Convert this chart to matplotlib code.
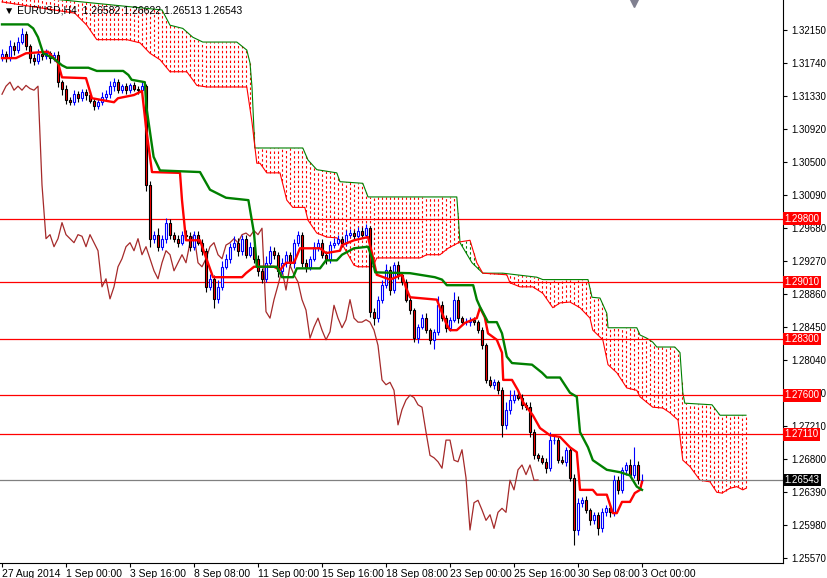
import numpy as np
import matplotlib
matplotlib.use('Agg')
from matplotlib import pyplot as plt

plt.rcParams['font.family'] = ['Liberation Sans', 'DejaVu Sans']

# EURUSD H4 closes, bar 0 .. 160
closes = [1.3185, 1.3180, 1.3195, 1.3190, 1.3200, 1.3210, 1.3195, 1.3180, 1.3176, 1.3185,
          1.3183, 1.3186, 1.3180, 1.3184, 1.3150, 1.3142, 1.3128, 1.3125, 1.3135, 1.3130,
          1.3138, 1.3134, 1.3127, 1.3120, 1.3125, 1.3132, 1.3135, 1.3145, 1.3150, 1.3140,
          1.3145, 1.3140, 1.3146, 1.3142, 1.3140, 1.3145, 1.3022, 1.2955, 1.2960, 1.2945,
          1.2955, 1.2975, 1.2960, 1.2955, 1.2950, 1.2960, 1.2958, 1.2945, 1.2960, 1.2950,
          1.2940, 1.2895, 1.2905, 1.2880, 1.2895, 1.2920, 1.2930, 1.2945, 1.2950, 1.2940,
          1.2955, 1.2935, 1.2945, 1.2930, 1.2915, 1.2905, 1.2925, 1.2940, 1.2935, 1.2915,
          1.2925, 1.2935, 1.2925, 1.2950, 1.2960, 1.2925, 1.2920, 1.2930, 1.2945, 1.2950,
          1.2935, 1.2930, 1.2947, 1.2950, 1.2955, 1.2950, 1.2960, 1.2962, 1.2958, 1.2965,
          1.2960, 1.2968, 1.2864, 1.2856, 1.2879, 1.2897, 1.2916, 1.2891, 1.2922, 1.2910,
          1.2901, 1.2879, 1.2866, 1.2831, 1.2845, 1.2856, 1.2841, 1.2829, 1.2839, 1.2872,
          1.2856, 1.2844, 1.2854, 1.2879, 1.2856, 1.2851, 1.2851, 1.2854, 1.2851, 1.2841,
          1.2822, 1.2779, 1.2773, 1.2776, 1.2766, 1.2723, 1.2742, 1.2754, 1.2760, 1.2757,
          1.2748, 1.2745, 1.2714, 1.2685, 1.2682, 1.2677, 1.2669, 1.2704, 1.2704, 1.2679,
          1.2677, 1.2692, 1.2657, 1.2592, 1.2626, 1.2629, 1.2617, 1.2604, 1.2611, 1.2594,
          1.2614, 1.2619, 1.2614, 1.2654, 1.2642, 1.2667, 1.2673, 1.2661, 1.2673, 1.2654,
          1.26543]
first_open = 1.3180
# wick sizes in pips above / below the body
wick_up = [6, 4, 8, 5, 6, 8, 4, 3, 5, 6, 4, 5, 3, 4, 5, 3, 4, 3, 5, 4,
           3, 4, 5, 3, 4, 6, 5, 6, 5, 4, 3, 4, 3, 4, 3, 5, 3, 5, 4, 8,
           5, 6, 4, 3, 5, 4, 6, 5, 4, 5, 4, 3, 6, 5, 8, 7, 6, 5, 8, 6,
           5, 4, 6, 3, 5, 4, 9, 6, 5, 4, 6, 5, 4, 5, 4, 3, 5, 4, 6, 5,
           4, 5, 5, 6, 4, 3, 6, 5, 4, 5, 4, 5, 3, 4, 5, 6, 8, 5, 4, 5,
           3, 4, 5, 3, 4, 5, 6, 3, 4, 12, 5, 4, 3, 9, 4, 3, 5, 4, 4, 3,
           4, 3, 5, 4, 3, 4, 10, 12, 6, 5, 4, 3, 6, 4, 3, 4, 5, 10, 6, 4,
           5, 3, 4, 5, 6, 4, 5, 3, 4, 3, 5, 4, 3, 6, 5, 4, 4, 8, 22, 5,
           8]
wick_dn = [4, 5, 3, 6, 4, 3, 5, 6, 4, 3, 5, 4, 6, 3, 6, 8, 5, 4, 3, 5,
           4, 6, 3, 5, 4, 3, 4, 5, 6, 4, 3, 5, 4, 3, 5, 4, 8, 10, 6, 5,
           4, 5, 6, 4, 5, 3, 4, 5, 4, 3, 5, 6, 4, 12, 5, 4, 3, 5, 4, 6,
           5, 4, 3, 5, 6, 5, 4, 3, 5, 8, 4, 5, 3, 6, 4, 5, 6, 4, 3, 5,
           4, 6, 5, 4, 3, 5, 4, 3, 5, 4, 3, 4, 6, 8, 5, 4, 3, 6, 4, 5,
           4, 3, 5, 5, 6, 3, 4, 5, 12, 4, 3, 5, 4, 3, 6, 4, 3, 5, 4, 3,
           5, 4, 3, 5, 4, 15, 5, 6, 4, 3, 5, 4, 6, 5, 4, 3, 6, 4, 5, 4,
           3, 5, 4, 19, 6, 5, 4, 6, 5, 8, 4, 5, 6, 4, 5, 4, 6, 3, 4, 5,
           3]

# Tenkan-sen (red)
tenkan_bar = [0, 3.5, 6, 11.5, 14, 15, 21, 22.5, 28, 29, 31, 33, 35, 36, 37.5, 44.5, 45, 46,
              49.5, 50.75, 52.75, 60, 61, 63, 68, 69.5, 71, 73, 74.5, 79.5, 81, 84.5, 85, 88,
              91.5, 92.5, 93.7, 97, 100, 101, 102, 108.7, 111, 112, 113.7, 115.7, 118.7,
              119.5, 120.7, 121.5, 123.7, 125, 125.3, 127.5, 129, 130.3, 132.7, 134.5, 137,
              139.5, 142, 143.7, 144.5, 147.7, 148.7, 151.2, 152.7, 153.7, 155, 157, 158.2,
              159.5, 160]
tenkan_val = [1.3180, 1.3180, 1.3186, 1.3188, 1.3174, 1.3156, 1.3155, 1.3130, 1.3125, 1.3130,
              1.3132, 1.3134, 1.3139, 1.3094, 1.3038, 1.3037, 1.3003, 1.2953, 1.2953, 1.2935,
              1.2907, 1.2907, 1.2912, 1.2920, 1.2920, 1.2916, 1.2925, 1.2925, 1.2943, 1.2943,
              1.2937, 1.2940, 1.2947, 1.2953, 1.2957, 1.2937, 1.2910, 1.2904, 1.2910, 1.2894,
              1.2882, 1.2879, 1.2850, 1.2841, 1.2841, 1.2850, 1.2856, 1.2869, 1.2857, 1.2837,
              1.2829, 1.2813, 1.2779, 1.2779, 1.2766, 1.2751, 1.2735, 1.2719, 1.2710, 1.2708,
              1.2695, 1.2689, 1.2642, 1.2642, 1.2636, 1.2636, 1.2613, 1.2613, 1.2627, 1.2627,
              1.2638, 1.2642, 1.2652]

# Kijun-sen (green)
kijun_bar = [0, 6.5, 7.8, 9, 10.3, 12.8, 15, 16.2, 21.6, 23.7, 30.3, 31.6, 32.4, 35.7, 36.1,
             37.4, 37.9, 39.5, 49.5, 52, 56, 61.6, 63, 63.7, 68.7, 70, 72.8, 73.7, 79.5, 81,
             83.7, 85, 88, 91.5, 92.5, 93.3, 102, 108.2, 110, 111.2, 117.8, 118.7, 119.5,
             121.5, 123.7, 125, 126.2, 127.5, 132.5, 135, 136.2, 139.5, 142, 143.7, 144.5,
             146.5, 147.7, 151.2, 154.5, 157, 158.7, 160]
kijun_val = [1.3222, 1.3222, 1.3217, 1.3206, 1.3186, 1.3180, 1.3171, 1.3168, 1.3168, 1.3164,
             1.3164, 1.3159, 1.3153, 1.3150, 1.3119, 1.3074, 1.3057, 1.3040, 1.3038, 1.3016,
             1.3006, 1.3003, 1.2962, 1.2920, 1.2920, 1.2907, 1.2907, 1.2918, 1.2918, 1.2928,
             1.2928, 1.2935, 1.2943, 1.2945, 1.2931, 1.2913, 1.2912, 1.2907, 1.2904, 1.2897,
             1.2897, 1.2879, 1.2870, 1.2851, 1.2851, 1.2837, 1.2808, 1.2800, 1.2798, 1.2788,
             1.2782, 1.2782, 1.2763, 1.2758, 1.2714, 1.2695, 1.2679, 1.2667, 1.2664, 1.2660,
             1.2646, 1.2642]

# Senkou span B (upper cloud edge, green)
spanb_bar = [0, 40, 42, 45.2, 47.7, 50.2, 58.7, 61.2, 62, 62.5, 63.2, 75.2, 76.5, 78.7, 83.7,
             84.5, 90.2, 91.5, 113.7, 114, 114.5, 117.5, 120.2, 125.2, 133.7, 135.2, 146.5,
             147.5, 149.5, 151.2, 151.5, 158.7, 159.5, 161.2, 162.7, 163.7, 168.2, 169.5,
             170.2, 170.7, 177.5, 179.5, 186]
spanb_val = [1.3260, 1.3240, 1.3221, 1.3217, 1.3206, 1.3200, 1.3200, 1.3190, 1.3174, 1.3144,
             1.3068, 1.3068, 1.3053, 1.3041, 1.3037, 1.3026, 1.3024, 1.3007, 1.3007, 1.2987,
             1.2950, 1.2925, 1.2912, 1.2912, 1.2907, 1.2904, 1.2904, 1.2882, 1.2881, 1.2862,
             1.2844, 1.2844, 1.2835, 1.2831, 1.2826, 1.2820, 1.2820, 1.2813, 1.2763, 1.2750,
             1.2748, 1.2735, 1.2735]
# Senkou span A (lower cloud edge, red)
spana_bar = [0, 18.2, 21.2, 23.7, 31.2, 34.5, 37, 39.5, 42, 46.2, 47.7, 48.7, 51.2, 61.2, 62.5,
             63.7, 64.5, 66.2, 69.5, 71.2, 72.7, 75.7, 76.5, 78.7, 81.2, 83.7, 84.5, 88, 89,
             92.7, 93.7, 104.5, 106.2, 109.5, 111.5, 114.5, 117, 118.7, 120.2, 126.2, 127,
             129.5, 132.7, 135.2, 137.7, 139.5, 142, 144.5, 147, 147.7, 150.2, 151.5, 153.7,
             156.2, 158.7, 159.5, 162.7, 165.2, 167, 169, 170.2, 172, 174.5, 177, 178.7, 180,
             182, 183.7, 185.2, 186]
spana_val = [1.3250, 1.3236, 1.3221, 1.3203, 1.3203, 1.3199, 1.3186, 1.3178, 1.3163, 1.3163,
             1.3153, 1.3146, 1.3144, 1.3144, 1.3100, 1.3049, 1.3049, 1.3037, 1.3037, 1.3003,
             1.2994, 1.2994, 1.2978, 1.2962, 1.2957, 1.2956, 1.2953, 1.2922, 1.2920, 1.2920,
             1.2931, 1.2931, 1.2935, 1.2935, 1.2943, 1.2951, 1.2953, 1.2925, 1.2912, 1.2910,
             1.2900, 1.2895, 1.2895, 1.2887, 1.2869, 1.2875, 1.2876, 1.2869, 1.2856, 1.2841,
             1.2829, 1.2798, 1.2788, 1.2769, 1.2766, 1.2758, 1.2745, 1.2744, 1.2738, 1.2729,
             1.2679, 1.2671, 1.2654, 1.2652, 1.2639, 1.2638, 1.2644, 1.2646, 1.2642, 1.2644]

levels = [1.2980, 1.2901, 1.2830, 1.2760, 1.2711]
last_price = 1.26543
yticks = [1.32150, 1.31740, 1.31330, 1.30920, 1.30500, 1.30090, 1.29680, 1.29270, 1.28860,
          1.28450, 1.28040, 1.27630, 1.27210, 1.26800, 1.26390, 1.25980, 1.25570]
xtick_bars = [0, 16, 32, 48, 64, 80, 96, 112, 128, 144, 160]
xtick_labels = ['27 Aug 2014', '1 Sep 00:00', '3 Sep 16:00', '8 Sep 08:00', '11 Sep 00:00',
                '15 Sep 16:00', '18 Sep 08:00', '23 Sep 00:00', '25 Sep 16:00', '30 Sep 08:00',
                '3 Oct 00:00']
title = '\u25bc EURUSD,H4  1.26582 1.26622 1.26513 1.26543'

fig = plt.figure(figsize=(8.27, 5.78), dpi=100)
ax = fig.add_axes([0.0, 0.026, 0.9468, 0.974])
ax.set_xlim(-0.5, 195.25)
ax.set_ylim(1.25509, 1.32524)

# cloud
cb = np.arange(0, 187)
a = np.interp(cb, spana_bar, spana_val)
b = np.interp(cb, spanb_bar, spanb_val)
for i in range(len(cb)):
    col = 'red' if a[i] < b[i] else 'green'
    ax.vlines(cb[i], min(a[i], b[i]), max(a[i], b[i]), colors=col, lw=0.8, linestyles=(0, (2.2, 2.2)))
ax.plot(spanb_bar, spanb_val, color='green', lw=0.8)
ax.plot(spana_bar, spana_val, color='red', lw=0.8)

# levels
for lv in levels:
    ax.axhline(lv, color='red', lw=0.9)
ax.axhline(last_price, color='#808080', lw=0.9)

# chikou span
n = len(closes)
ax.plot(np.arange(n)[26:] - 26, closes[26:], color='#a52a2a', lw=0.9)

# candles
opens = [first_open] + closes[:-1]
for i in range(n):
    o, c = opens[i], closes[i]
    hi = max(o, c) + wick_up[i] * 0.0001
    lo = min(o, c) - wick_dn[i] * 0.0001
    bull = c >= o
    edge = 'blue' if bull else 'black'
    fill = 'white' if bull else 'red'
    ax.vlines(i, lo, hi, colors=edge, lw=0.8, zorder=3)
    h = max(abs(c - o), 0.00003)
    ax.add_patch(plt.Rectangle((i - 0.35, min(o, c)), 0.7, h, facecolor=fill,
                               edgecolor=edge, lw=0.8, zorder=4))

ax.plot(tenkan_bar, tenkan_val, color='red', lw=1.7, zorder=5)
ax.plot(kijun_bar, kijun_val, color='green', lw=1.7, zorder=5)

# axes styling
for s in ['top', 'left']:
    ax.spines[s].set_visible(False)
ax.spines['right'].set_linewidth(0.8)
ax.spines['bottom'].set_linewidth(0.8)
ax.yaxis.tick_right()
ax.set_yticks(yticks)
ax.set_yticklabels(['%.5f' % v for v in yticks])
ax.set_xticks(xtick_bars)
ax.set_xticklabels(xtick_labels, ha='left')
ax.tick_params(axis='x', labelsize=7.5, length=3, width=0.8, pad=1)
ax.tick_params(axis='y', labelsize=7, length=3, width=0.8, pad=3)

# right price labels
for lv in levels:
    ax.text(1.002, lv, '%.5f' % lv, transform=ax.get_yaxis_transform(), va='center',
            ha='left', fontsize=7, color='white', zorder=10,
            bbox=dict(boxstyle='square,pad=0.15', fc='red', ec='none'))
ax.text(1.002, last_price, '%.5f' % last_price, transform=ax.get_yaxis_transform(),
        va='center', ha='left', fontsize=7, color='white', zorder=10,
        bbox=dict(boxstyle='square,pad=0.15', fc='black', ec='none'))

ax.text(0.005, 0.99, title, transform=ax.transAxes, va='top', ha='left', fontsize=7.5,
        family=['Liberation Sans', 'DejaVu Sans'])
ax.plot([158], [1.3250], marker='v', color='#808090', ms=7, clip_on=False)

fig.savefig('out.png', dpi=100)
